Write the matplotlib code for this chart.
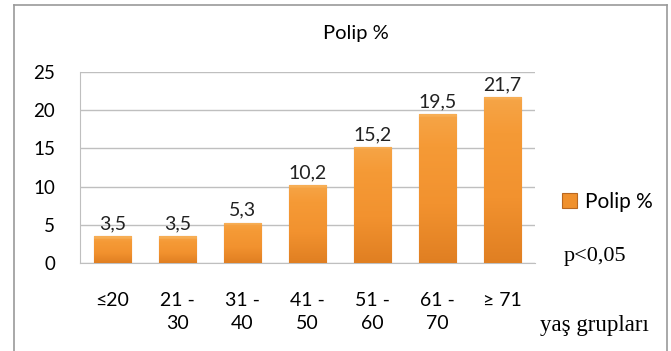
import numpy as np
import matplotlib.pyplot as plt
from matplotlib.colors import LinearSegmentedColormap
from matplotlib.lines import Line2D

# yaş grupları ve polip yüzdeleri
gruplar = ['≤20', '21 -\n30', '31 -\n40', '41 -\n50', '51 -\n60', '61 -\n70', '≥ 71']
polip = [3.5, 3.5, 5.3, 10.2, 15.2, 19.5, 21.7]
etiketler = ['3,5', '3,5', '5,3', '10,2', '15,2', '19,5', '21,7']
y_ticks = [0, 5, 10, 15, 20, 25]

sans = ['Lato', 'DejaVu Sans']
serif = ['Liberation Serif', 'DejaVu Serif']

fig = plt.figure(figsize=(6.71, 3.51), dpi=100)
ax = fig.add_axes([80 / 671, 1 - 263 / 351, 455 / 671, 191 / 351])

x = np.arange(len(gruplar))
bars = ax.bar(x, polip, width=0.58, color='#F0902C', edgecolor='#B9671F', linewidth=0.8, zorder=3)

# bar gradyanı: hafif koyu alt, ince açık üst kenar
cmap = LinearSegmentedColormap.from_list('tur', ['#E07F22', '#F2922F', '#F59A36', '#F7AE55'])
for b in bars:
    x0, y0 = b.get_x(), b.get_y()
    w, h = b.get_width(), b.get_height()
    n = 400
    grad = np.linspace(0, 0.85, n)
    top = max(1, int(n * 0.35 / h))
    grad[-top:] = 1.0
    im = ax.imshow(grad.reshape(-1, 1), cmap=cmap, origin='lower', aspect='auto',
                   extent=[x0, x0 + w, y0, y0 + h], zorder=3, vmin=0, vmax=1)
    im.set_clip_path(b)

for xi, v, t in zip(x, polip, etiketler):
    ax.text(xi, v + 0.5, t, ha='center', va='bottom', fontsize=14, family=sans, color='#222222', zorder=4)

ax.set_xlim(-0.5, len(gruplar) - 0.5)
ax.set_ylim(0, 25)
ax.set_yticks(y_ticks)
ax.set_yticklabels([str(v) for v in y_ticks], fontsize=13.5, family=sans)
ax.set_xticks(x)
ax.set_xticklabels(gruplar, fontsize=14, family=sans, linespacing=1.45)
ax.tick_params(length=0)
ax.tick_params(axis='y', pad=18)
ax.tick_params(axis='x', pad=21)
ax.yaxis.grid(True, color='#BFBFBF', linewidth=1, zorder=0)
for s in ['top', 'right']:
    ax.spines[s].set_visible(False)
for s in ['left', 'bottom']:
    ax.spines[s].set_color('#BFBFBF')

fig.text(356 / 671, 1 - 33 / 351, 'Polip %', ha='center', va='center', fontsize=14.5, family=sans)

leg = ax.legend([bars[0]], ['Polip %'], loc='center left', bbox_to_anchor=(552 / 671, 1 - 202 / 351),
                bbox_transform=fig.transFigure, frameon=False, prop={'family': sans, 'size': 15},
                handlelength=0.7, handleheight=0.7, handletextpad=0.4, borderpad=0)

fig.text(564 / 671, 1 - 257 / 351, 'p<0,05', ha='left', va='center', fontsize=16, family=serif)
fig.text(540 / 671, 1 - 326 / 351, 'yaş grupları', ha='left', va='center', fontsize=16.5, family=serif)

# dış çerçeve
fc = '#9A9A9A'
fig.add_artist(Line2D([14 / 671, 14 / 671], [0, 1 - 5 / 351], transform=fig.transFigure, color=fc, lw=1.2))
fig.add_artist(Line2D([14 / 671, 667 / 671], [1 - 5 / 351, 1 - 5 / 351], transform=fig.transFigure, color=fc, lw=1.2))
fig.add_artist(Line2D([667 / 671, 667 / 671], [0, 1 - 5 / 351], transform=fig.transFigure, color=fc, lw=1.2))

fig.savefig('out.png', dpi=100)
